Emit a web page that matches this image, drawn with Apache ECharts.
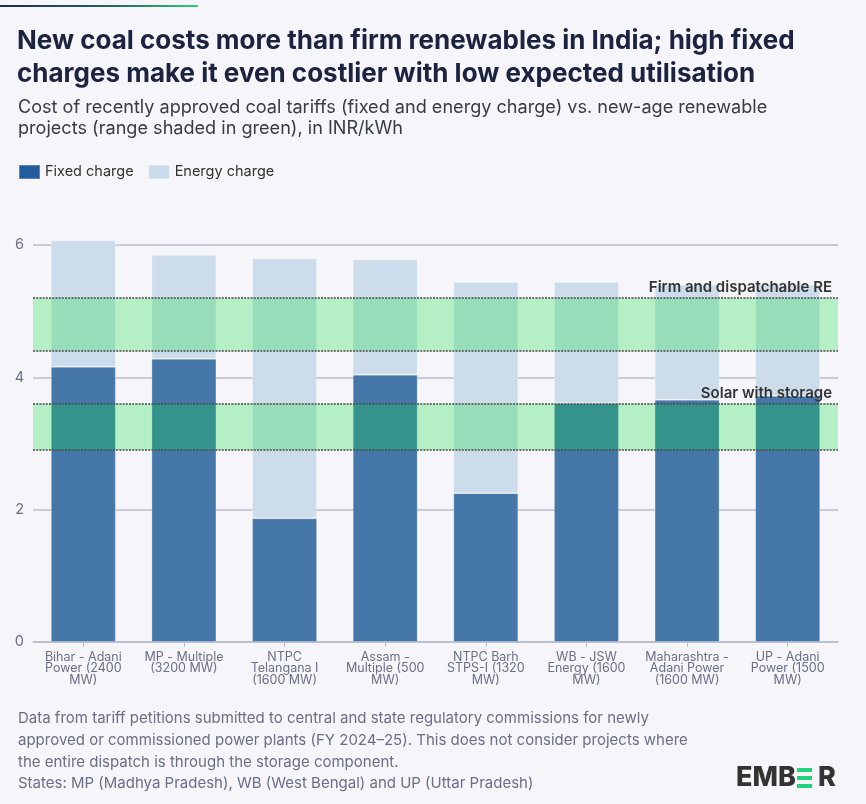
<!DOCTYPE html>
<html>
<head>
<meta charset="utf-8">
<script src="https://cdn.jsdelivr.net/npm/echarts@6/dist/echarts.min.js"></script>
<style>
html,body{margin:0;padding:0;background:#f5f5fa;}
#chart{width:866px;height:804px;}
</style>
</head>
<body>
<div id="chart"></div>
<script>
const categories = [
  'Bihar - Adani\nPower (2400\nMW)',
  'MP - Multiple\n(3200 MW)',
  'NTPC\nTelangana I\n(1600 MW)',
  'Assam -\nMultiple (500\nMW)',
  'NTPC Barh\nSTPS-I (1320\nMW)',
  'WB - JSW\nEnergy (1600\nMW)',
  'Maharashtra -\nAdani Power\n(1600 MW)',
  'UP - Adani\nPower (1500\nMW)'
];
const fixedCharge = [4.16, 4.28, 1.87, 4.04, 2.25, 3.61, 3.66, 3.72];
const energyCharge = [1.91, 1.57, 3.93, 1.74, 3.19, 1.83, 1.74, 1.68];
const firmRE = [4.4, 5.2];
const solarStorage = [2.9, 3.6];
const yTicks = [0, 2, 4, 6];

const titleLines = [
  'New coal costs more than firm renewables in India; high fixed',
  'charges make it even costlier with low expected utilisation'
];
const subtitleLines = [
  'Cost of recently approved coal tariffs (fixed and energy charge) vs. new-age renewable',
  'projects (range shaded in green), in INR/kWh'
];
const footerLines = [
  'Data from tariff petitions submitted to central and state regulatory commissions for newly',
  'approved or commissioned power plants (FY 2024\u201325). This does not consider projects where',
  'the entire dispatch is through the storage component.',
  'States: MP (Madhya Pradesh), WB (West Bengal) and UP (Uttar Pradesh)'
];

const FONT = 'Inter, "Noto Sans", sans-serif';
const chart = echarts.init(document.getElementById('chart'), null, {renderer: 'canvas'});

const bandLine = { type: [2, 1.2], color: '#4a4a4a', width: 1.6 };
const bandLabel = { show: true, position: 'insideEndTop', fontSize: 15, fontWeight: 600, color: '#333',
  distance: [6, 3], fontFamily: FONT };
const graphics = [
  { type: 'rect', left: 0, top: 5, shape: { width: 198, height: 2 },
    style: { fill: new echarts.graphic.LinearGradient(0, 0, 1, 0, [
      { offset: 0, color: '#1c2a4f' }, { offset: 0.6, color: '#256a5e' }, { offset: 1, color: '#2fd07a' }]) } },
  { type: 'text', left: 17, top: 25, style: { text: titleLines.join('\n'), font: '700 26px ' + FONT, fill: '#1b2340', lineHeight: 33 } },
  { type: 'text', left: 18, top: 97, style: { text: subtitleLines.join('\n'), font: '400 18.1px ' + FONT, fill: '#3a3a44', lineHeight: 21 } },
  { type: 'text', left: 18, top: 708, style: { text: footerLines.join('\n'), font: '400 15px ' + FONT, fill: '#6b6f85', lineHeight: 21.7 } },
  { type: 'text', left: 736, top: 764, style: { text: 'EMB', font: '800 27px ' + FONT, fill: '#333333' } },
  { type: 'rect', left: 797, top: 768, shape: { width: 15, height: 4 }, style: { fill: '#1fd37b' } },
  { type: 'rect', left: 797, top: 776, shape: { width: 15, height: 4 }, style: { fill: '#1fd37b' } },
  { type: 'rect', left: 797, top: 784, shape: { width: 15, height: 4 }, style: { fill: '#1fd37b' } },
  { type: 'text', left: 818, top: 764, style: { text: 'R', font: '800 27px ' + FONT, fill: '#333333' } }
];

chart.setOption({
  backgroundColor: '#f5f5fa',
  animation: false,
  textStyle: { fontFamily: FONT },
  graphic: graphics,
  legend: {
    left: 13, top: 159, itemWidth: 21, itemHeight: 14, itemGap: 14, icon: 'rect',
    textStyle: { fontSize: 14.5, color: '#333', fontFamily: FONT },
    data: [
      { name: 'Fixed charge', itemStyle: { color: '#245c9e' } },
      { name: 'Energy charge', itemStyle: { color: '#c9dbea' } }
    ]
  },
  grid: { left: 33, right: 28, top: 245, bottom: 162, containLabel: false },
  xAxis: {
    type: 'category', data: categories,
    axisLine: { lineStyle: { color: '#b8bccb', width: 1.5 } },
    axisTick: { show: true, alignWithLabel: true, length: 5, lineStyle: { color: '#b8bccb' } },
    axisLabel: { interval: 0, color: '#6b7085', fontSize: 12.5, lineHeight: 11.5, margin: 9, fontFamily: FONT }
  },
  yAxis: {
    type: 'value', min: yTicks[0], max: yTicks[yTicks.length - 1], interval: 2,
    axisLine: { show: false }, axisTick: { show: false },
    axisLabel: { color: '#6b7085', fontSize: 14.5, margin: 9, fontFamily: FONT },
    splitLine: { lineStyle: { color: '#b8bccb', width: 1.5 } }
  },
  series: [
    { name: 'Fixed charge', type: 'bar', stack: 'tariff', data: fixedCharge, barWidth: 65, clip: false,
      itemStyle: { color: '#4577a9', borderColor: 'rgba(255,255,255,0.25)', borderWidth: 1 }, z: 2 },
    { name: 'Energy charge', type: 'bar', stack: 'tariff', data: energyCharge, barWidth: 65, clip: false,
      itemStyle: { color: '#ccdcea', borderColor: 'rgba(255,255,255,0.3)', borderWidth: 1 }, z: 2 },
    { name: 'bands', type: 'line', data: [], z: 10, silent: true,
      markArea: { silent: true, z: 10,
        itemStyle: { color: 'rgba(8,226,56,0.27)' },
        data: [
          [{ yAxis: firmRE[0] }, { yAxis: firmRE[1] }],
          [{ yAxis: solarStorage[0] }, { yAxis: solarStorage[1] }]
        ] },
      markLine: { silent: true, symbol: 'none', animation: false, z: 11,
        lineStyle: bandLine,
        label: { show: false },
        data: [
          { yAxis: firmRE[1], label: Object.assign({ formatter: 'Firm and dispatchable RE' }, bandLabel) },
          { yAxis: firmRE[0] },
          { yAxis: solarStorage[1], label: Object.assign({ formatter: 'Solar with storage' }, bandLabel) },
          { yAxis: solarStorage[0] }
        ] } }
  ]
});
</script>
</body>
</html>
